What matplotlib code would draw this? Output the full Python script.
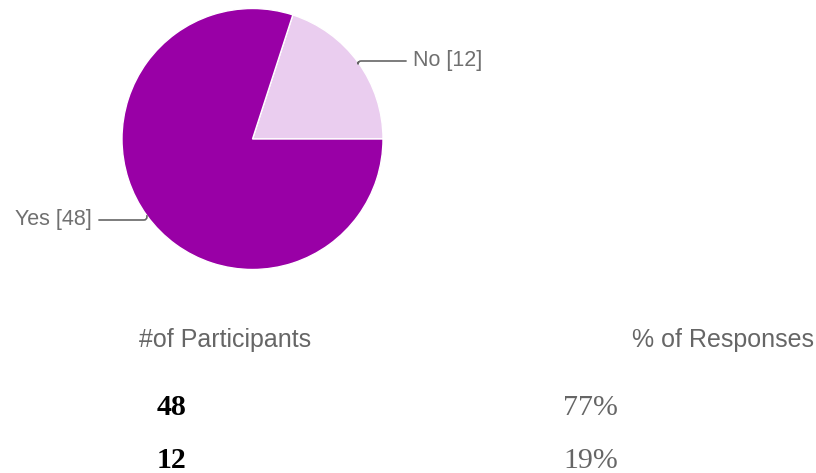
import numpy as np
import matplotlib.pyplot as plt

# survey answers
answers = ["No", "Yes"]
counts = [12, 48]
slice_colors = ["#eacdef", "#9900a6"]

# summary table rows (Yes first)
table_counts = ["48", "12"]
table_pcts = ["77%", "19%"]

W, H = 816, 473


def px(y):
    # convert a top-down pixel row into the axes' bottom-up coordinate
    return H - y


fig = plt.figure(figsize=(W / 100, H / 100), dpi=100)
ax = fig.add_axes([0, 0, 1, 1])

cx, cy, r = 252.5, px(139), 130.5
wedges, _ = ax.pie(counts, colors=slice_colors, startangle=0, counterclock=True,
                   center=(cx, cy), radius=r,
                   wedgeprops=dict(edgecolor="white", linewidth=1))
ax.set_xlim(0, W)
ax.set_ylim(0, H)
ax.set_aspect("equal")
ax.set_axis_off()

# slice labels with leader lines
label_font = dict(family="Liberation Sans", size=15.5, color="#707070")
label_pos = {"No": (413, px(61), "left"), "Yes": (92, px(220), "right")}
for w, name, n in zip(wedges, answers, counts):
    mid = np.deg2rad((w.theta1 + w.theta2) / 2)
    ex, ey = cx + r * np.cos(mid), cy + r * np.sin(mid)
    tx, ty, ha = label_pos[name]
    ax.annotate(f"{name} [{n}]", xy=(ex, ey), xytext=(tx, ty), ha=ha, va="center",
                arrowprops=dict(arrowstyle="-", color="#666666", lw=1.2,
                                shrinkA=3, shrinkB=0,
                                connectionstyle="angle,angleA=0,angleB=90,rad=3"),
                **label_font)

# summary table
head_font = dict(family="Liberation Sans", size=18, color="#666666", va="baseline")
ax.text(139, px(347), "#of Participants", ha="left", **head_font)
ax.text(632, px(347), "% of Responses", ha="left", **head_font)

rows_y = [415, 468]
for y, c, p in zip(rows_y, table_counts, table_pcts):
    ax.text(157, px(y), c, ha="left", va="baseline", family="Liberation Serif",
            weight="bold", size=21.5, color="black")
    ax.text(563, px(y), p, ha="left", va="baseline", family="Liberation Serif",
            size=21.5, color="#666666")

fig.savefig("out.png", dpi=100, facecolor="white")
